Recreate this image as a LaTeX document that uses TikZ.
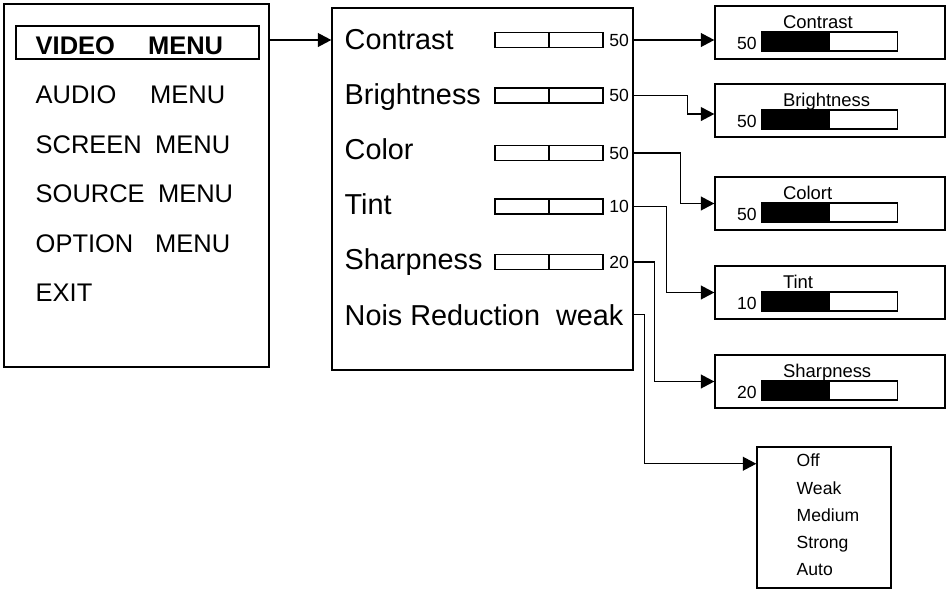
\documentclass[tikz,border=0pt]{standalone}
\usepackage{fontspec}
\setmainfont{Liberation Sans}
\usetikzlibrary{arrows.meta}

\begin{document}
\begin{tikzpicture}[x=0.02cm,y=-0.02cm,line width=.8pt,
	menutxt/.style={anchor=base west,inner sep=0,font=\fontsize{14.5}{16}\selectfont},
	rowtxt/.style={anchor=base west,inner sep=0,font=\fontsize{16.4}{18}\selectfont},
	smalltxt/.style={inner sep=0,font=\fontsize{10}{12}\selectfont},
	slider/.style={draw,minimum width=2.16cm,minimum height=.3cm,inner sep=0},
	valbox/.style={draw,minimum width=4.6cm,minimum height=1.06cm,inner sep=0},
	link/.style={-{Triangle[length=7.6pt,width=7.8pt]}}]
\useasboundingbox (0,0) rectangle (952,589);
% main menu
\node[draw,minimum width=5.3cm,minimum height=7.26cm] (menu) at (136.5,185.5) {};
\node[draw,minimum width=4.86cm,minimum height=.66cm] (video) at (137.5,42.5) {};
\node[menutxt] (m0) at (35,54) {\textbf{\makebox[64pt][l]{VIDEO}MENU}};
\foreach \i/\w/\lbl in {1/65.2/AUDIO,2/68/SCREEN,3/69.7/SOURCE,4/68/OPTION}
	\node[menutxt] (m\i) at (35,{54+49.5*\i}) {\makebox[\w pt][l]{\lbl}MENU};
\node[menutxt] (m5) at (35,301.5) {EXIT};
% video menu
\node[draw,minimum width=6.02cm,minimum height=7.24cm] (mid) at (482.5,189) {};
\foreach \i/\lbl/\y/\sy/\val in {1/Contrast/49/40/50,2/Brightness/104.2/95.5/50,3/Color/159.4/153/50,4/Tint/214.6/206.5/10,5/Sharpness/269.8/262/20}{
	\node[rowtxt] (r\i) at (344,\y) {\lbl};
	\node[slider] (s\i) at (549,\sy) {};
	\draw (s\i.north) -- (s\i.south);
	\node[smalltxt,anchor=west] (v\i) at ([xshift=.1cm]s\i.east) {\val};
}
\node[rowtxt] (r6) at (344,325) {Nois Reduction\ \ weak};
% value boxes
\foreach \i/\ty/\val/\lbl in {1/6/50/Contrast,2/84/50/Brightness,3/177/50/Colort,4/266/10/Tint,5/355/20/Sharpness}{
	\node[valbox] (b\i) at (830,{\ty+26.5}) {};
	\node[smalltxt,anchor=base west,font=\fontsize{10.5}{12}\selectfont] (bt\i) at ([shift={(68,23)}]b\i.north west) {\lbl};
	\node[smalltxt,anchor=base east] (bv\i) at ([shift={(43,44)}]b\i.north west) {\val};
	\fill ([shift={(47,26.5)}]b\i.north west) rectangle ++(69,19);
	\draw ([shift={(47,26.5)}]b\i.north west) rectangle ++(136,19);
}
% noise reduction list
\node[draw,minimum width=2.68cm,minimum height=2.82cm] (nbox) at (824,517.5) {};
\foreach \i/\lbl/\y in {1/Off/466.5,2/Weak/494,3/Medium/521,4/Strong/548,5/Auto/575}
	\node[smalltxt,anchor=base west] (o\i) at (796,\y) {\lbl};
% links
\draw[link] (s1 -| menu.east) -- (s1 -| mid.west);
\draw[link] (v1 -| mid.east) -- (v1 -| b1.west);
\draw[link] (v2 -| mid.east) -- ++(54,0) |- ([yshift=-2pt]b2.west);
\draw[link] (v3 -| mid.east) -- ++(47,0) |- (b3.west);
\draw[link] (v4 -| mid.east) -- ++(33,0) |- (b4.west);
\draw[link] (v5 -| mid.east) -- ++(21,0) |- (b5.west);
\draw[link] (r6.east -| mid.east) -- ++(11,0) |- ([yshift=-2pt]o1.west -| nbox.west);
\end{tikzpicture}
\end{document}
